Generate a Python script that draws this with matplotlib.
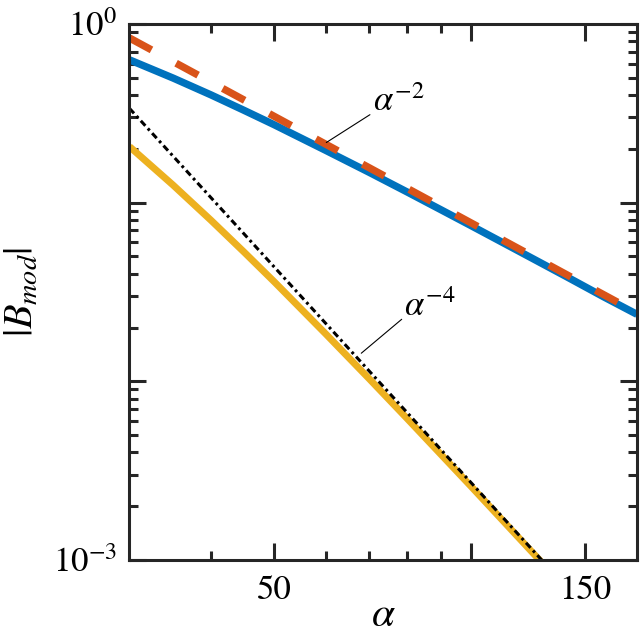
import matplotlib
matplotlib.use("Agg")
import matplotlib.pyplot as plt
from matplotlib.ticker import FixedLocator, NullFormatter, FixedFormatter

plt.rcParams['font.family'] = ['STIXGeneral', 'Liberation Serif', 'DejaVu Serif']
plt.rcParams['mathtext.fontset'] = 'stix'

# values
alpha = [30, 35, 40, 45, 50, 60, 70, 80, 90, 100, 120, 140, 160, 180]
b_blue = [0.630, 0.498, 0.401, 0.328, 0.273, 0.196, 0.1475, 0.1146,
          0.0914, 0.0746, 0.0523, 0.0387, 0.0297, 0.0237]
alpha_y = [30, 35, 40, 45, 50, 60, 70, 80, 90, 100, 120, 130]
b_yellow = [0.206, 0.1253, 0.0797, 0.0527, 0.0361, 0.0184, 0.01029,
            0.00617, 0.00391, 0.00260, 0.00127, 0.000928]
alpha_ref2 = [30, 180]
ref2 = [0.835, 0.0242]
alpha_ref4 = [30, 130]
ref4 = [0.337, 0.000956]

frame = '#262626'

fig = plt.figure(figsize=(6.41, 6.38), dpi=100)
ax = fig.add_axes([0.202, 0.1223, 0.7918, 0.8401])

ax.plot(alpha, b_blue, color='#0072BD', lw=5.3, solid_capstyle='butt')
ax.plot(alpha_ref2, ref2, color='#D95319', lw=5.3, dashes=(3.4, 3.8))
ax.plot(alpha_y, b_yellow, color='#EDB120', lw=5.0, solid_capstyle='butt')
ax.plot(alpha_ref4, ref4, color='black', lw=2.2, dashes=(2.2, 1.2, 0.9, 1.2))

ax.set_xscale('log')
ax.set_yscale('log')
ax.set_xlim(30, 180)
ax.set_ylim(1e-3, 1)

ax.xaxis.set_major_locator(FixedLocator([50, 100, 150]))
ax.xaxis.set_major_formatter(FixedFormatter(['50', '', '150']))
ax.xaxis.set_minor_locator(FixedLocator([40, 60, 70, 80, 90]))
ax.xaxis.set_minor_formatter(NullFormatter())

ax.yaxis.set_major_locator(FixedLocator([1e-3, 1e-2, 1e-1, 1]))
ax.yaxis.set_major_formatter(FixedFormatter([r'$10^{-3}$', '', '', r'$10^{0}$']))
yminor = [m * 10.0 ** e for e in (-3, -2, -1) for m in range(2, 10)]
ax.yaxis.set_minor_locator(FixedLocator(yminor))
ax.yaxis.set_minor_formatter(NullFormatter())

ax.tick_params(which='both', direction='in', top=True, right=True,
               color=frame, width=2.2, labelsize=25, labelcolor='black')
ax.tick_params(which='major', length=12.5)
ax.tick_params(which='minor', length=6.5)
ax.tick_params(axis='x', which='major', pad=11)
ax.tick_params(axis='y', which='major', pad=9)
for s in ax.spines.values():
    s.set_linewidth(2.2)
    s.set_color(frame)

ax.set_xlabel(r'$\alpha$', fontsize=30, labelpad=-7)
ax.set_ylabel(r'$|B_{mod}|$', fontsize=29, labelpad=8)

ax.annotate(r'$\alpha^{-2}$', xy=(60.1, 0.217), xytext=(70.8, 0.361),
            fontsize=25, va='center', ha='left',
            arrowprops=dict(arrowstyle='-', color='black', lw=0.8,
                            shrinkA=0, shrinkB=0, relpos=(0, 0.2)))
ax.annotate(r'$\alpha^{-4}$', xy=(68.0, 0.01436), xytext=(79.2, 0.0261),
            fontsize=25, va='center', ha='left',
            arrowprops=dict(arrowstyle='-', color='black', lw=0.8,
                            shrinkA=0, shrinkB=0, relpos=(0, 0.2)))

fig.savefig('out.png', dpi=100)
